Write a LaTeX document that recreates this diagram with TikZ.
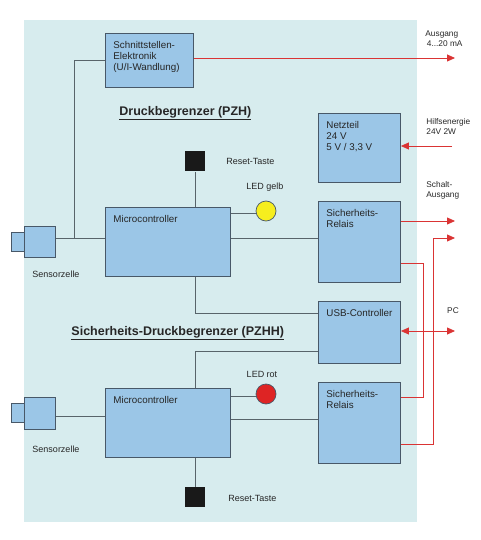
\documentclass[tikz,border=0pt]{standalone}
\usepackage{fontspec}
\setmainfont{Liberation Sans}
\usetikzlibrary{arrows.meta}
\definecolor{bgcyan}{RGB}{215,236,238}
\definecolor{boxblue}{RGB}{155,198,231}
\definecolor{boxline}{RGB}{72,88,104}
\definecolor{wiregray}{RGB}{88,100,106}
\definecolor{wirered}{RGB}{218,52,52}
\definecolor{ledyellow}{RGB}{246,238,30}
\definecolor{ledred}{RGB}{222,36,36}

\begin{document}
\begin{tikzpicture}[x=1pt,y=-1pt,line width=0.9pt,
  blk/.style={draw=boxline,fill=boxblue,inner sep=0pt,anchor=north west},
  boxtxt/.style={anchor=north west,align=left,inner sep=0pt,font=\fontsize{9.8}{11}\selectfont,text=black!85},
  lbl/.style={inner sep=0pt,font=\fontsize{9}{11}\selectfont,text=black!85},
  rlbl/.style={anchor=north west,align=left,inner sep=0pt,font=\fontsize{8.3}{10.5}\selectfont,text=black!85},
  ttl/.style={anchor=west,inner sep=0pt,font=\fontsize{12.5}{14}\selectfont\bfseries,text=black!85},
  led/.style={circle,draw=boxline,line width=0.7pt,minimum size=20pt,inner sep=0pt},
  taste/.style={fill=black!90,inner sep=0pt,minimum size=20pt,anchor=north west},
  wire/.style={draw=wiregray},
  sig/.style={draw=wirered,line width=0.8pt},
  sigarr/.style={sig,-{Triangle[length=8pt,width=7pt]}}]
\useasboundingbox (0,0) rectangle (481,540);
\fill[bgcyan] (24,20) rectangle (417,522);

% blocks
\node[blk,minimum width=88pt,minimum height=54pt] (schn) at (105,33) {};
\node[blk,minimum width=82pt,minimum height=69pt] (netz) at (318,113) {};
\node[blk,minimum width=125pt,minimum height=69pt] (mcA) at (105,207) {};
\node[blk,minimum width=82pt,minimum height=81pt] (relA) at (318,201) {};
\node[blk,minimum width=82pt,minimum height=62pt] (usb) at (318,301) {};
\node[blk,minimum width=125pt,minimum height=69pt] (mcB) at (105,388) {};
\node[blk,minimum width=82pt,minimum height=81pt] (relB) at (318,382) {};
\node[boxtxt] (schnT) at ([shift={(8,7.5)}]schn.north west) {Schnittstellen-\\Elektronik\\(U/I-Wandlung)};
\node[boxtxt] (netzT) at ([shift={(8,7.5)}]netz.north west) {Netzteil\\24 V\\5 V / 3,3 V};
\node[boxtxt] (mcAT) at ([shift={(8,7.5)}]mcA.north west) {Microcontroller};
\node[boxtxt] (relAT) at ([shift={(8,7.5)}]relA.north west) {Sicherheits-\\Relais};
\node[boxtxt] (usbT) at ([shift={(8,7.5)}]usb.north west) {USB-Controller};
\node[boxtxt] (mcBT) at ([shift={(8,7.5)}]mcB.north west) {Microcontroller};
\node[boxtxt] (relBT) at ([shift={(8,7.5)}]relB.north west) {Sicherheits-\\Relais};

% sensors, LEDs, keys
\node[blk,minimum width=13pt,minimum height=19pt] (tipA) at (11,232) {};
\node[blk,minimum width=31pt,minimum height=31pt] (sensA) at (24,226) {};
\node[blk,minimum width=13pt,minimum height=19pt] (tipB) at (11,403) {};
\node[blk,minimum width=31pt,minimum height=32pt] (sensB) at (24,397) {};
\node[led,fill=ledyellow] (ledA) at (266,211) {};
\node[led,fill=ledred] (ledB) at (266,394) {};
\node[taste] (resetA) at (185,151) {};
\node[taste] (resetB) at (185,487) {};

% labels
\node[ttl] (ttlA) at (119,113) {\underline{Druckbegrenzer (PZH)}};
\node[ttl] (ttlB) at (71,333) {\underline{Sicherheits-Druckbegrenzer (PZHH)}};
\node[lbl,anchor=west] (rstA) at (226,161) {Reset-Taste};
\node[lbl,anchor=west] (rstB) at (228,498) {Reset-Taste};
\node[lbl] (ledAT) at (265,187) {LED gelb};
\node[lbl] (ledBT) at (262,374) {LED rot};
\node[lbl] (senAT) at (56,274) {Sensorzelle};
\node[lbl] (senBT) at (56,449) {Sensorzelle};
\node[rlbl] (ausT) at (425,30) {Ausgang\\\hspace{1.5pt}4...20 mA};
\node[rlbl] (hilfT) at (426,118) {Hilfsenergie\\24V 2W};
\node[rlbl] (schT) at (426,181) {Schalt-\\Ausgang};
\node[rlbl,anchor=center] (pcT) at (453,311) {PC};

% gray wires
\coordinate (junA) at (74,238);
\coordinate (usbA) at (318,313);
\coordinate (usbB) at (318,351);
\draw[wire] (sensA.east |- junA) -- (mcA.west |- junA);
\draw[wire] (junA) |- (schn.west);
\draw[wire] (mcA.east |- 0,213) -- (ledA.west |- 0,213);
\draw[wire] (mcA.east |- junA) -- (relA.west |- junA);
\draw[wire] (resetA.south) -- (resetA.south |- mcA.north);
\draw[wire] (mcA.south -| resetA.south) |- (usbA);
\draw[wire] (usbB) -| (mcB.north -| resetB.north);
\draw[wire] (sensB.east |- 0,416) -- (mcB.west |- 0,416);
\draw[wire] (mcB.east |- 0,396) -- (ledB.west |- 0,396);
\draw[wire] (mcB.east |- 0,419) -- (relB.west |- 0,419);
\draw[wire] (mcB.south -| resetB.north) -- (resetB.north);

% red signal lines
\coordinate (outAus) at (455,58);
\coordinate (inHilf) at (452,146);
\coordinate (outSchA) at (455,221);
\coordinate (outSchB) at (455,238);
\coordinate (loopA) at (423,263);
\coordinate (loopB) at (423,397);
\coordinate (riseB) at (433,444);
\coordinate (pcEnd) at (455,331);
\draw[sigarr] (schn.east |- outAus) -- (outAus);
\draw[sigarr] (inHilf) -- (netz.east |- inHilf);
\draw[sigarr] (relA.east |- outSchA) -- (outSchA);
\draw[sig] (relA.east |- loopA) -- (loopA) -- (loopB) -- (relB.east |- loopB);
\draw[sigarr] (relB.east |- riseB) -- (riseB) |- (outSchB);
\draw[sig,{Triangle[length=8pt,width=7pt]}-{Triangle[length=8pt,width=7pt]}] (usb.east |- pcEnd) -- (pcEnd);
\end{tikzpicture}
\end{document}
